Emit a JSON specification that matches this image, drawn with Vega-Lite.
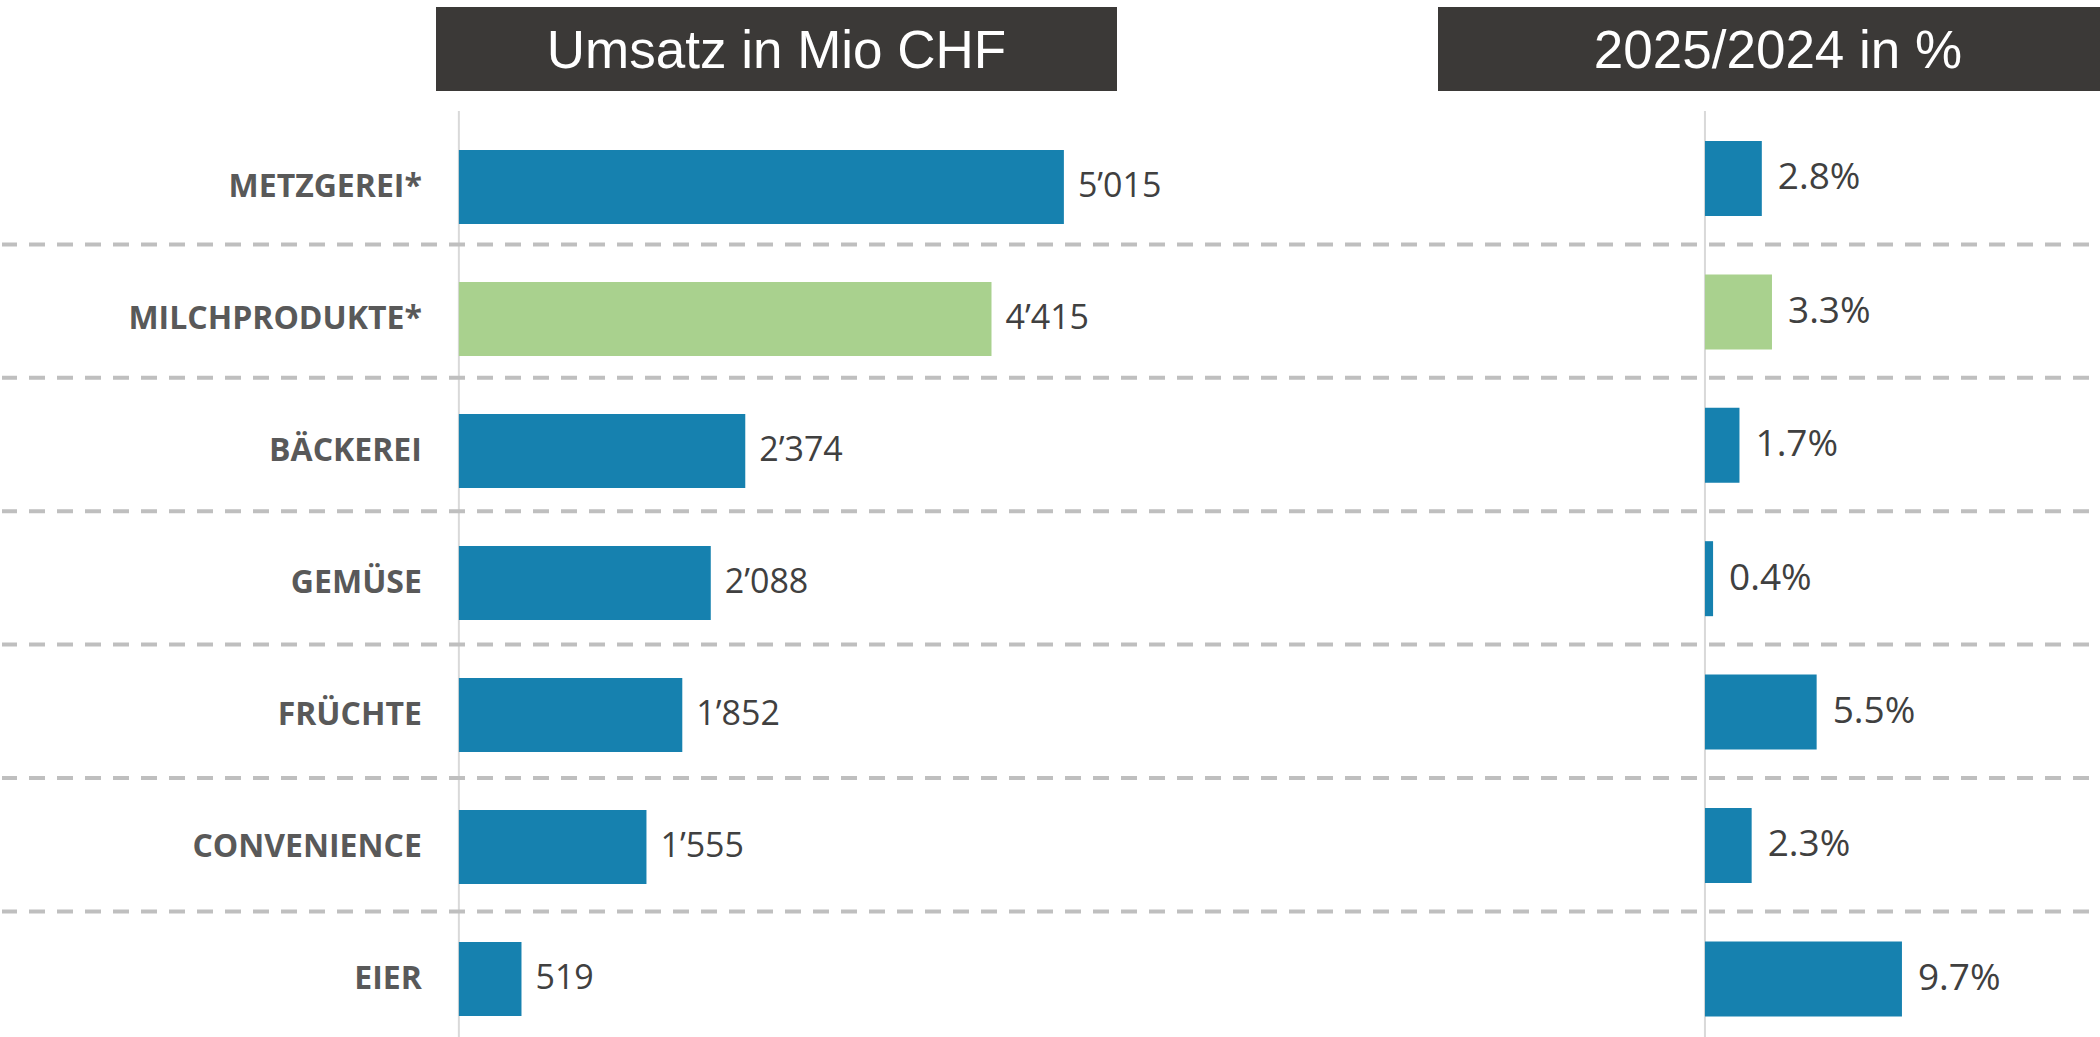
{
  "$schema": "https://vega.github.io/schema/vega-lite/v6.json",
  "background": "white",
  "padding": {"left": 0, "top": 7, "right": 0, "bottom": 0},
  "config": {
    "view": {"stroke": null},
    "locale": {"number": {"decimal": ".", "thousands": "’", "grouping": [3], "currency": ["", ""]}}
  },
  "datasets": {
    "rows": [
      {"kategorie": "METZGEREI*", "umsatz": 5015, "veraenderung": 0.028},
      {"kategorie": "MILCHPRODUKTE*", "umsatz": 4415, "veraenderung": 0.033},
      {"kategorie": "BÄCKEREI", "umsatz": 2374, "veraenderung": 0.017},
      {"kategorie": "GEMÜSE", "umsatz": 2088, "veraenderung": 0.004},
      {"kategorie": "FRÜCHTE", "umsatz": 1852, "veraenderung": 0.055},
      {"kategorie": "CONVENIENCE", "umsatz": 1555, "veraenderung": 0.023},
      {"kategorie": "EIER", "umsatz": 519, "veraenderung": 0.097}
    ]
  },
  "spacing": 19,
  "vconcat": [
    {
      "spacing": 0,
      "hconcat": [
        {"width": 434, "height": 84, "data": {"values": [{}]}, "mark": {"type": "text"}, "encoding": {"text": {"value": ""}}},
        {
          "width": 681, "height": 84,
          "view": {"fill": "#3b3937", "stroke": null},
          "data": {"values": [{"titel": "Umsatz in Mio CHF"}]},
          "mark": {"type": "text", "font": "Liberation Sans", "fontSize": 53, "color": "white", "align": "center", "baseline": "alphabetic", "dy": 19},
          "encoding": {"text": {"field": "titel", "type": "nominal"}}
        },
        {"width": 321, "height": 84, "data": {"values": [{}]}, "mark": {"type": "text"}, "encoding": {"text": {"value": ""}}},
        {
          "width": 664, "height": 84,
          "view": {"fill": "#3b3937", "stroke": null},
          "data": {"values": [{"titel": "2025/2024 in %"}]},
          "mark": {"type": "text", "font": "Liberation Sans", "fontSize": 53, "color": "white", "align": "center", "baseline": "alphabetic", "dy": 19, "dx": 8},
          "encoding": {"text": {"field": "titel", "type": "nominal"}}
        }
      ]
    },
    {
      "width": 2100,
      "height": 927,
      "data": {"name": "rows"},
      "resolve": {"scale": {"x": "independent", "y": "independent"}},
      "layer": [
        {
          "layer": [
            {
              "data": {"values": [{}]},
              "mark": {"type": "rule", "color": "#d9d9d9", "strokeWidth": 2},
              "encoding": {
                "x": {"datum": 0, "type": "quantitative", "axis": null, "scale": {"domain": [-3787, 13620], "nice": false, "zero": false}}
              }
            },
            {
              "mark": {"type": "bar"},
              "encoding": {
                "y": {"field": "kategorie", "type": "nominal", "sort": null, "axis": null,
                      "scale": {"domain": ["METZGEREI*", "MILCHPRODUKTE*", "BÄCKEREI", "GEMÜSE", "FRÜCHTE", "CONVENIENCE", "EIER"], "paddingInner": 0.4394, "paddingOuter": 0.231, "align": 0.639}},
                "x": {"field": "umsatz", "type": "quantitative", "axis": null, "scale": {"domain": [-3787, 13620], "nice": false, "zero": false}},
                "x2": {"datum": 0},
                "color": {"field": "kategorie", "type": "nominal", "legend": null,
                          "scale": {"domain": ["METZGEREI*", "MILCHPRODUKTE*", "BÄCKEREI", "GEMÜSE", "FRÜCHTE", "CONVENIENCE", "EIER"],
                                    "range": ["#1681af", "#a9d18e", "#1681af", "#1681af", "#1681af", "#1681af", "#1681af"]}}
              }
            },
            {
              "mark": {"type": "text", "align": "left", "baseline": "middle", "dx": 14, "font": "Open Sans", "fontSize": 34, "color": "#404040"},
              "encoding": {
                "y": {"field": "kategorie", "type": "nominal", "sort": null, "axis": null,
                      "scale": {"domain": ["METZGEREI*", "MILCHPRODUKTE*", "BÄCKEREI", "GEMÜSE", "FRÜCHTE", "CONVENIENCE", "EIER"], "paddingInner": 0.4394, "paddingOuter": 0.231, "align": 0.639}},
                "x": {"field": "umsatz", "type": "quantitative", "axis": null, "scale": {"domain": [-3787, 13620], "nice": false, "zero": false}},
                "text": {"field": "umsatz", "type": "quantitative", "format": ","}
              }
            },
            {
              "mark": {"type": "text", "align": "right", "baseline": "middle", "dx": -37, "font": "Open Sans", "fontWeight": "bold", "fontSize": 32, "color": "#595959"},
              "encoding": {
                "y": {"field": "kategorie", "type": "nominal", "sort": null, "axis": null,
                      "scale": {"domain": ["METZGEREI*", "MILCHPRODUKTE*", "BÄCKEREI", "GEMÜSE", "FRÜCHTE", "CONVENIENCE", "EIER"], "paddingInner": 0.4394, "paddingOuter": 0.231, "align": 0.639}},
                "x": {"datum": 0, "type": "quantitative", "axis": null, "scale": {"domain": [-3787, 13620], "nice": false, "zero": false}},
                "text": {"field": "kategorie", "type": "nominal"}
              }
            }
          ]
        },
        {
          "layer": [
            {
              "transform": [{"filter": "datum.kategorie !== 'METZGEREI*'"}],
              "mark": {"type": "rule", "color": "#bfbfbf", "strokeWidth": 4, "strokeDash": [16, 12], "strokeDashOffset": 15},
              "encoding": {
                "y": {"field": "kategorie", "type": "nominal", "sort": null, "axis": null, "bandPosition": -0.4,
                      "scale": {"domain": ["METZGEREI*", "MILCHPRODUKTE*", "BÄCKEREI", "GEMÜSE", "FRÜCHTE", "CONVENIENCE", "EIER"], "paddingInner": 0.4378, "paddingOuter": 0.1934, "align": 0.581}}
              }
            },
            {
              "data": {"values": [{}]},
              "mark": {"type": "rule", "color": "#d9d9d9", "strokeWidth": 2},
              "encoding": {
                "x": {"datum": 0, "type": "quantitative", "axis": null, "scale": {"domain": [-0.8385, 0.1955], "nice": false, "zero": false}}
              }
            },
            {
              "mark": {"type": "bar"},
              "encoding": {
                "y": {"field": "kategorie", "type": "nominal", "sort": null, "axis": null,
                      "scale": {"domain": ["METZGEREI*", "MILCHPRODUKTE*", "BÄCKEREI", "GEMÜSE", "FRÜCHTE", "CONVENIENCE", "EIER"], "paddingInner": 0.4378, "paddingOuter": 0.1934, "align": 0.581}},
                "x": {"field": "veraenderung", "type": "quantitative", "axis": null, "scale": {"domain": [-0.8385, 0.1955], "nice": false, "zero": false}},
                "x2": {"datum": 0},
                "color": {"field": "kategorie", "type": "nominal", "legend": null,
                          "scale": {"domain": ["METZGEREI*", "MILCHPRODUKTE*", "BÄCKEREI", "GEMÜSE", "FRÜCHTE", "CONVENIENCE", "EIER"],
                                    "range": ["#1681af", "#a9d18e", "#1681af", "#1681af", "#1681af", "#1681af", "#1681af"]}}
              }
            },
            {
              "mark": {"type": "text", "align": "left", "baseline": "middle", "dx": 16, "font": "Open Sans", "fontSize": 37, "color": "#404040"},
              "encoding": {
                "y": {"field": "kategorie", "type": "nominal", "sort": null, "axis": null,
                      "scale": {"domain": ["METZGEREI*", "MILCHPRODUKTE*", "BÄCKEREI", "GEMÜSE", "FRÜCHTE", "CONVENIENCE", "EIER"], "paddingInner": 0.4378, "paddingOuter": 0.1934, "align": 0.581}},
                "x": {"field": "veraenderung", "type": "quantitative", "axis": null, "scale": {"domain": [-0.8385, 0.1955], "nice": false, "zero": false}},
                "text": {"field": "veraenderung", "type": "quantitative", "format": ".1%"}
              }
            }
          ]
        }
      ]
    }
  ]
}
